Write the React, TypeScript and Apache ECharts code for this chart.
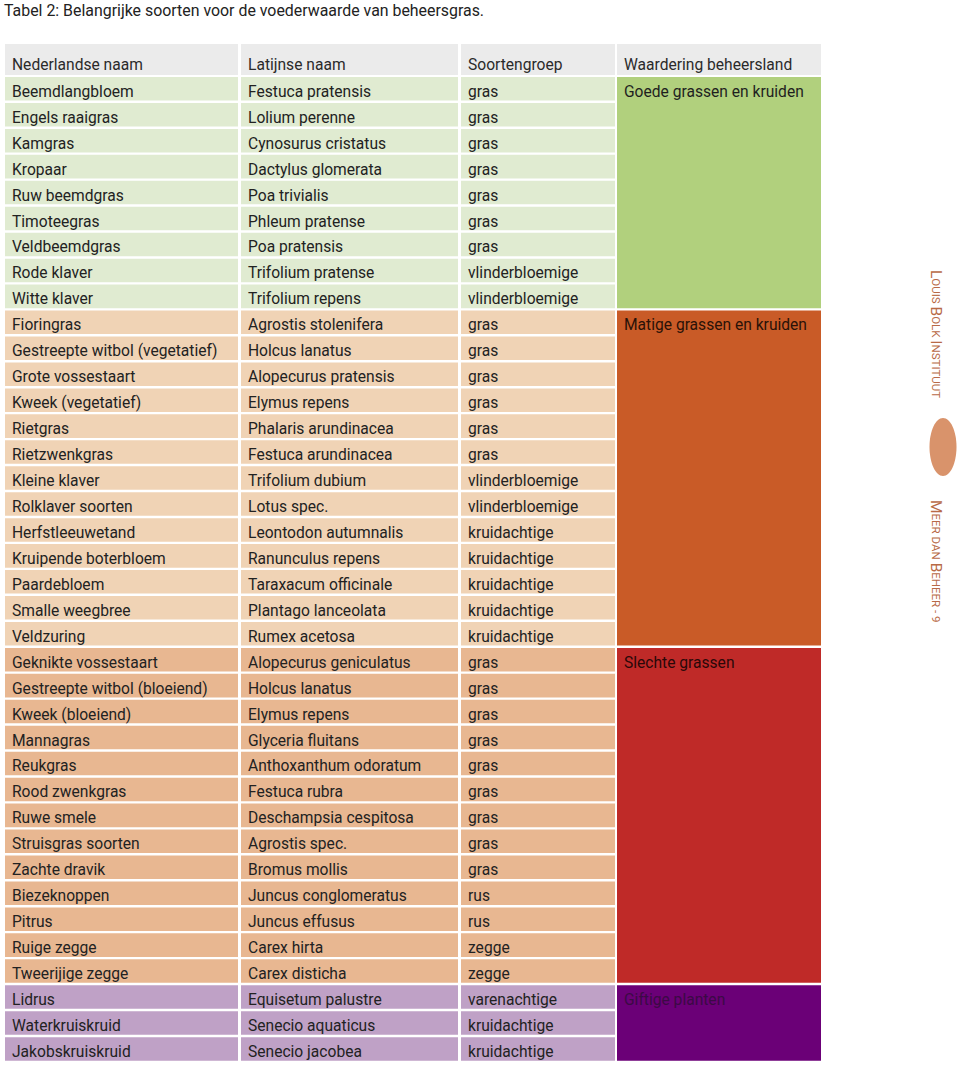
import React, { useEffect, useRef } from "react";
import * as echarts from "echarts";

const TITLE = "Tabel 2: Belangrijke soorten voor de voederwaarde van beheersgras.";
const headers = ["Nederlandse naam", "Latijnse naam", "Soortengroep", "Waardering beheersland"];

const dutchNames = [
  "Beemdlangbloem", "Engels raaigras", "Kamgras", "Kropaar", "Ruw beemdgras", "Timoteegras",
  "Veldbeemdgras", "Rode klaver", "Witte klaver", "Fioringras", "Gestreepte witbol (vegetatief)",
  "Grote vossestaart", "Kweek (vegetatief)", "Rietgras", "Rietzwenkgras", "Kleine klaver",
  "Rolklaver soorten", "Herfstleeuwetand", "Kruipende boterbloem", "Paardebloem", "Smalle weegbree",
  "Veldzuring", "Geknikte vossestaart", "Gestreepte witbol (bloeiend)", "Kweek (bloeiend)",
  "Mannagras", "Reukgras", "Rood zwenkgras", "Ruwe smele", "Struisgras soorten", "Zachte dravik",
  "Biezeknoppen", "Pitrus", "Ruige zegge", "Tweerijige zegge", "Lidrus", "Waterkruiskruid",
  "Jakobskruiskruid",
];

const latinNames = [
  "Festuca pratensis", "Lolium perenne", "Cynosurus cristatus", "Dactylus glomerata", "Poa trivialis",
  "Phleum pratense", "Poa pratensis", "Trifolium pratense", "Trifolium repens", "Agrostis stolenifera",
  "Holcus lanatus", "Alopecurus pratensis", "Elymus repens", "Phalaris arundinacea", "Festuca arundinacea",
  "Trifolium dubium", "Lotus spec.", "Leontodon autumnalis", "Ranunculus repens", "Taraxacum officinale",
  "Plantago lanceolata", "Rumex acetosa", "Alopecurus geniculatus", "Holcus lanatus", "Elymus repens",
  "Glyceria fluitans", "Anthoxanthum odoratum", "Festuca rubra", "Deschampsia cespitosa", "Agrostis spec.",
  "Bromus mollis", "Juncus conglomeratus", "Juncus effusus", "Carex hirta", "Carex disticha",
  "Equisetum palustre", "Senecio aquaticus", "Senecio jacobea",
];

const speciesGroups = [
  "gras", "gras", "gras", "gras", "gras", "gras", "gras", "vlinderbloemige", "vlinderbloemige",
  "gras", "gras", "gras", "gras", "gras", "gras", "vlinderbloemige", "vlinderbloemige",
  "kruidachtige", "kruidachtige", "kruidachtige", "kruidachtige", "kruidachtige",
  "gras", "gras", "gras", "gras", "gras", "gras", "gras", "gras", "gras", "rus", "rus",
  "zegge", "zegge", "varenachtige", "kruidachtige", "kruidachtige",
];

const ratingLabels = ["Goede grassen en kruiden", "Matige grassen en kruiden", "Slechte grassen", "Giftige planten"];
const ratingFirstRow = [0, 9, 22, 35];
const ratingLastRow = [8, 21, 34, 37];

// styling
const rowFill = ["#e0ebd1", "#f0d3b5", "#e8b791", "#bfa1c6"];
const blockFill = ["#b1d07d", "#c95b27", "#bf2a28", "#6b0077"];
const blockText = ["#1f1f1f", "#2a1208", "#2a0808", "#3b0a45"];
const colLeft = [0, 236, 456, 612];
const colRight = [233, 453, 610, 816];
const FONT = "Roboto, 'Noto Sans', sans-serif";
const FS = 15.6;
const ROW_GAP = 2.4;

function ratingOfRow(r: number) {
  for (let i = 0; i < ratingLabels.length; i++) {
    if (r >= ratingFirstRow[i] && r <= ratingLastRow[i]) return i;
  }
  return 0;
}

function smallCaps(s: string, big: number, small: number, color: string) {
  const parts: string[] = [];
  s.split(" ").forEach((w, wi) => {
    if (wi > 0) parts.push("{s| }");
    const first = w.charAt(0);
    const rest = w.slice(1);
    if (first === first.toUpperCase() && /[A-Za-z]/.test(first)) parts.push(`{b|${first}}`);
    else parts.push(`{s|${first.toUpperCase()}}`);
    if (rest) parts.push(`{s|${rest.toUpperCase()}}`);
  });
  return {
    text: parts.join(""),
    rich: {
      b: { fontSize: big, fill: color, fontFamily: FONT },
      s: { fontSize: small, fill: color, fontFamily: FONT },
    },
  };
}

export default function App() {
  const ref = useRef<HTMLDivElement>(null);
  useEffect(() => {
    document.body.style.margin = "0";
    const chart = echarts.init(ref.current!, undefined, { renderer: "svg" });

    const rowCats = dutchNames.map((_, i) => String(i));
    const cellData: number[][] = [];
    for (let r = 0; r < dutchNames.length; r++) for (let c = 0; c < 3; c++) cellData.push([c, r]);
    const colTexts = [dutchNames, latinNames, speciesGroups];

    const lbi = smallCaps("Louis Bolk Instituut", 15.5, 11.5, "#b86a46");
    const mdb = smallCaps("Meer dan Beheer - 9", 15.5, 11.5, "#b86a46");

    const option: any = {
      animation: false,
      title: {
        text: TITLE,
        left: 4,
        top: 2,
        padding: 0,
        textStyle: { fontSize: 15.9, fontWeight: "normal", color: "#222", fontFamily: FONT },
      },
      grid: [
        { left: 5, width: 816, top: 44, height: 31 },
        { left: 5, width: 816, top: 77, height: 38 * 25.95 },
      ],
      xAxis: [
        { type: "value", gridIndex: 0, min: 0, max: 816, show: false },
        { type: "value", gridIndex: 1, min: 0, max: 816, show: false },
      ],
      yAxis: [
        { type: "category", gridIndex: 0, data: ["header"], show: false },
        { type: "category", gridIndex: 1, data: rowCats, inverse: true, show: false },
      ],
      series: [
        {
          type: "custom",
          name: "header",
          xAxisIndex: 0,
          yAxisIndex: 0,
          encode: { x: 0, y: 1 },
          data: headers.map((_, i) => [i, 0]),
          renderItem: (params: any, api: any) => {
            const c = api.value(0);
            const p0 = api.coord([colLeft[c], 0]);
            const p1 = api.coord([colRight[c], 0]);
            const h = api.size([0, 1])[1];
            const top = p0[1] - h / 2;
            return {
              type: "group",
              children: [
                { type: "rect", shape: { x: p0[0], y: top, width: p1[0] - p0[0], height: h }, style: { fill: "#ebebeb" } },
                {
                  type: "text",
                  x: p0[0] + 7,
                  y: top + h / 2 + 5,
                  style: { text: headers[c], fill: "#2a2a2a", fontSize: FS, fontFamily: FONT, verticalAlign: "middle", align: "left" },
                },
              ],
            };
          },
        },
        {
          type: "custom",
          name: "cells",
          xAxisIndex: 1,
          yAxisIndex: 1,
          encode: { x: 0, y: 1 },
          data: cellData,
          renderItem: (params: any, api: any) => {
            const c = api.value(0);
            const r = api.value(1);
            const p0 = api.coord([colLeft[c], r]);
            const p1 = api.coord([colRight[c], r]);
            const band = api.size([0, 1])[1];
            const h = band - ROW_GAP;
            const top = p0[1] - band / 2;
            return {
              type: "group",
              children: [
                { type: "rect", shape: { x: p0[0], y: top, width: p1[0] - p0[0], height: h }, style: { fill: rowFill[ratingOfRow(r)] } },
                {
                  type: "text",
                  x: p0[0] + 7,
                  y: top + h / 2 + 3,
                  style: { text: colTexts[c][r], fill: "#222", fontSize: FS, fontFamily: FONT, verticalAlign: "middle", align: "left" },
                },
              ],
            };
          },
        },
        {
          type: "custom",
          name: "ratings",
          xAxisIndex: 1,
          yAxisIndex: 1,
          encode: { x: 0, y: 1 },
          data: ratingLabels.map((_, i) => [i, ratingFirstRow[i]]),
          renderItem: (params: any, api: any) => {
            const i = api.value(0);
            const pa = api.coord([colLeft[3], ratingFirstRow[i]]);
            const pb = api.coord([colRight[3], ratingLastRow[i]]);
            const band = api.size([0, 1])[1];
            const top = pa[1] - band / 2;
            const bottom = pb[1] + band / 2 - ROW_GAP;
            return {
              type: "group",
              children: [
                { type: "rect", shape: { x: pa[0], y: top, width: pb[0] - pa[0], height: bottom - top }, style: { fill: blockFill[i] } },
                {
                  type: "text",
                  x: pa[0] + 7,
                  y: top + (band - ROW_GAP) / 2 + 3,
                  style: { text: ratingLabels[i], fill: blockText[i], fontSize: FS, fontFamily: FONT, verticalAlign: "middle", align: "left" },
                },
              ],
            };
          },
        },
      ],
      graphic: [
        {
          type: "text",
          x: 936,
          y: 270,
          rotation: -Math.PI / 2,
          style: { ...lbi, align: "left", verticalAlign: "middle" },
        },
        {
          type: "ellipse",
          shape: { cx: 943, cy: 447, rx: 13.5, ry: 29 },
          style: { fill: "#d9936b" },
        },
        {
          type: "text",
          x: 936,
          y: 500,
          rotation: -Math.PI / 2,
          style: { ...mdb, align: "left", verticalAlign: "middle" },
        },
      ],
    };
    chart.setOption(option);
    return () => chart.dispose();
  }, []);
  return <div ref={ref} style={{ width: 960, height: 1067 }} />;
}
